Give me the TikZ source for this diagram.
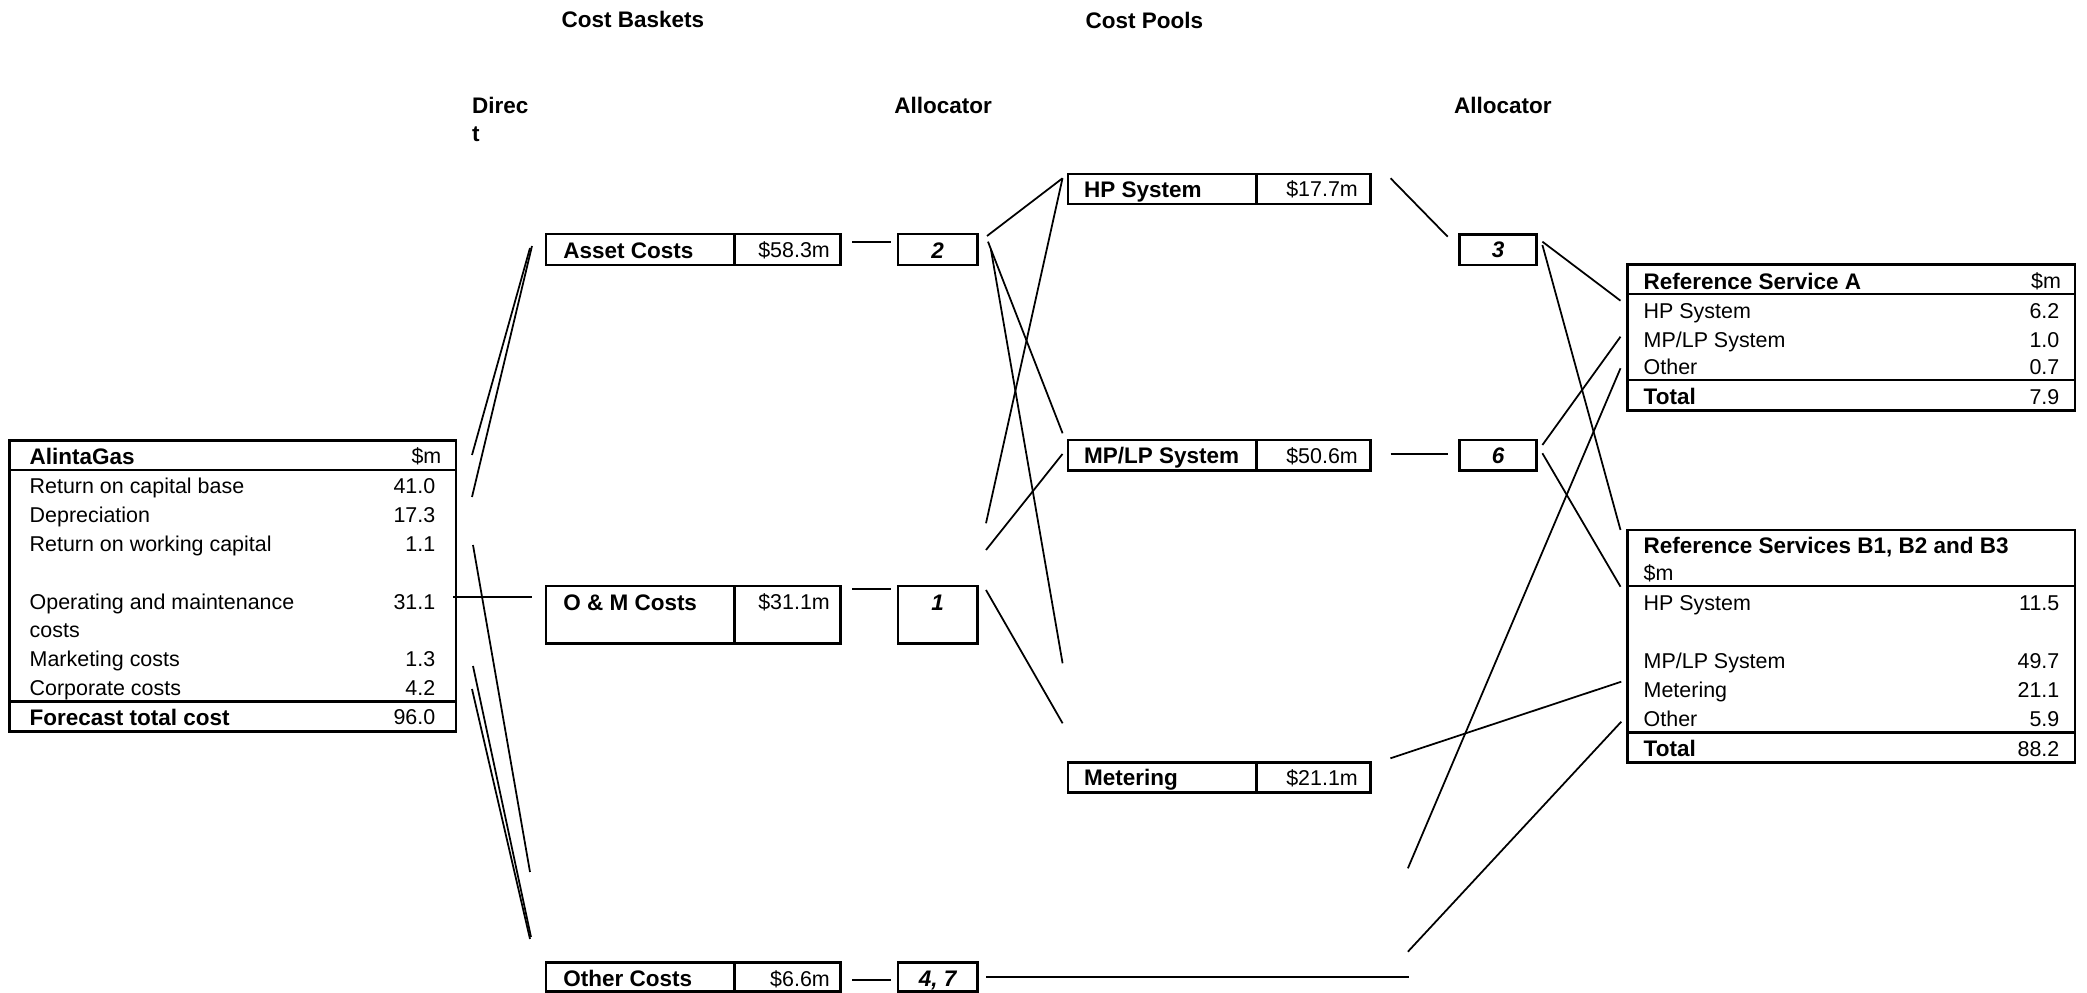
\documentclass[tikz,border=0pt]{standalone}
\usepackage{fontspec}
\setmainfont{Liberation Sans}
\tikzset{
  box/.style={draw, line width=0.8pt},
  txt/.style={inner sep=0pt, text height=4.4pt, text depth=0pt, font=\fontsize{6.1}{7.5}\selectfont},
  hd/.style={txt, text height=4.6pt, font=\fontsize{6.4}{7.5}\selectfont\bfseries},
  alc/.style={hd, font=\fontsize{6.4}{7.5}\selectfont\bfseries\itshape},
  link/.style={line width=0.5pt},
}
\begin{document}
\begin{tikzpicture}[x=0.1mm, y=-0.1mm]
\useasboundingbox (0,0) rectangle (2087,993);

% headings
\node[hd, anchor=west] (baskets) at (561,19) {Cost Baskets};
\node[hd, anchor=west] (pools) at (1085,20) {Cost Pools};
\node[hd, anchor=west] (direct1) at (471.5,105) {Direc};
\node[hd, anchor=west] (direct2) at (471.5,133) {t};
\node[hd, anchor=west] (allocA) at (893.6,105) {Allocator};
\node[hd, anchor=west] (allocB) at (1453.5,105) {Allocator};

% AlintaGas
\draw[box] (9.6,440.7) rectangle (456,731.7);
\draw[box] (9.6,470) -- (456,470);
\draw[box] (9.6,701.7) -- (456,701.7);
\node[hd, anchor=west] (agname) at (29,456) {AlintaGas};
\node[txt, anchor=east] (agunit) at (442,456) {\$m};
\foreach \y/\t/\v [count=\i] in {486/Return on capital base/41.0, 515/Depreciation/17.3,
    544/Return on working capital/1.1, 602/Operating and maintenance/31.1,
    659/Marketing costs/1.3, 688/Corporate costs/4.2}{
  \node[txt, anchor=west] (agrow\i) at (29,\y) {\t};
  \node[txt, anchor=east] (agval\i) at (436,\y) {\v};
}
\node[txt, anchor=west] (agcosts) at (29,630) {costs};
\node[hd, anchor=west] (agtotal) at (29,717) {Forecast total cost};
\node[txt, anchor=east] (agtotalv) at (436,717) {96.0};

% cost baskets
\foreach \n/\yt/\yb/\l/\v in {asset/234/265/Asset Costs/\$58.3m, om/586/643.5/O \& M Costs/\$31.1m,
    other/962.3/991.5/Other Costs/\$6.6m}{
  \draw[box] (546,\yt) rectangle (840.7,\yb);
  \draw[box] (734.4,\yt) -- (734.4,\yb);
  \node[hd, anchor=west] (\n) at (562.6,\yt+16) {\l};
  \node[txt, anchor=east] (\n v) at (830.5,\yt+16) {\v};
}
\foreach \n/\yt/\yb/\l in {al2/234/265/2, al1/586/643.5/1, al47/962.3/991.5/{4, 7}}{
  \draw[box] (898,\yt) rectangle (977.4,\yb);
  \node[alc] (\n) at (937.7,\yt+16) {\l};
}

% cost pools
\draw[box] (1068,174) rectangle (1370.5,204);
\draw[box] (1256.7,174) -- (1256.7,204);
\node[hd, anchor=west] (hp) at (1083.5,189) {HP System};
\node[txt, anchor=east] (hpv) at (1358.5,189) {\$17.7m};
\draw[box] (1068,440) rectangle (1370.5,470.7);
\draw[box] (1256.7,440) -- (1256.7,470.7);
\node[hd, anchor=west] (mplp) at (1083.5,455.5) {MP/LP System};
\node[txt, anchor=east] (mplpv) at (1358.5,455.5) {\$50.6m};
\draw[box] (1068,762.7) rectangle (1370.5,792.7);
\draw[box] (1256.7,762.7) -- (1256.7,792.7);
\node[hd, anchor=west] (meter) at (1083.5,777.7) {Metering};
\node[txt, anchor=east] (meterv) at (1358.5,777.7) {\$21.1m};

\foreach \n/\yt/\yb/\l in {al3/234.3/265/3, al6/440/470.7/6}{
  \draw[box] (1459.8,\yt) rectangle (1536.6,\yb);
  \node[alc] (\n) at (1498.2,\yt+15.5) {\l};
}

% Reference Service A
\draw[box] (1627.3,264.3) rectangle (2075,410.7);
\draw[box] (1627.3,294) -- (2075,294);
\draw[box] (1627.3,380) -- (2075,380);
\node[hd, anchor=west] (raname) at (1643,281) {Reference Service A};
\node[txt, anchor=east] (raunit) at (2061.7,281) {\$m};
\node[txt, anchor=west] (rahp) at (1643,311) {HP System};
\node[txt, anchor=east] (rahpv) at (2060,311) {6.2};
\node[txt, anchor=west] (ramp) at (1643,339.3) {MP/LP System};
\node[txt, anchor=east] (rampv) at (2060,339.3) {1.0};
\node[txt, anchor=west] (raot) at (1643,366.7) {Other};
\node[txt, anchor=east] (raotv) at (2060,366.7) {0.7};
\node[hd, anchor=west] (ratot) at (1643,396.7) {Total};
\node[txt, anchor=east] (ratotv) at (2060,396.7) {7.9};

% Reference Services B1, B2 and B3
\draw[box] (1627.3,530) rectangle (2075,762.3);
\draw[box] (1627.3,586) -- (2075,586);
\draw[box] (1627.3,732.7) -- (2075,732.7);
\node[hd, anchor=west] (rbname) at (1643,545) {Reference Services B1, B2 and B3};
\node[txt, anchor=west] (rbunit) at (1643,572.3) {\$m};
\node[txt, anchor=west] (rbhp) at (1643,602.7) {HP System};
\node[txt, anchor=east] (rbhpv) at (2060,602.7) {11.5};
\node[txt, anchor=west] (rbmp) at (1643,660.7) {MP/LP System};
\node[txt, anchor=east] (rbmpv) at (2060,660.7) {49.7};
\node[txt, anchor=west] (rbme) at (1643,689.3) {Metering};
\node[txt, anchor=east] (rbmev) at (2060,689.3) {21.1};
\node[txt, anchor=west] (rbot) at (1643,718.3) {Other};
\node[txt, anchor=east] (rbotv) at (2060,718.3) {5.9};
\node[hd, anchor=west] (rbtot) at (1643,748.3) {Total};
\node[txt, anchor=east] (rbtotv) at (2060,748.3) {88.2};

% connector ends
\coordinate (ag1s) at (472,455);    \coordinate (ag1e) at (530,248);
\coordinate (ag2s) at (472,497);    \coordinate (ag2e) at (532,246);
\coordinate (ag3s) at (453,597);    \coordinate (ag3e) at (532,597);
\coordinate (ag4s) at (473,545);    \coordinate (ag4e) at (530,872);
\coordinate (ag5s) at (473,666);    \coordinate (ag5e) at (531,937);
\coordinate (ag6s) at (472,689);    \coordinate (ag6e) at (530,939);
\coordinate (b1s) at (852,241.7);   \coordinate (b1e) at (890.5,241.7);
\coordinate (b2s) at (852,589.3);   \coordinate (b2e) at (891,589.3);
\coordinate (b3s) at (852,980);     \coordinate (b3e) at (891,980);
\coordinate (p1s) at (987,236);     \coordinate (p1e) at (1062.5,178.3);
\coordinate (p2s) at (988,241.7);   \coordinate (p2e) at (1062.6,433.3);
\coordinate (p3s) at (991,250);     \coordinate (p3e) at (1062.6,663.3);
\coordinate (p4s) at (986,523.3);   \coordinate (p4e) at (1062.5,178.3);
\coordinate (p5s) at (986,550);     \coordinate (p5e) at (1062.5,454);
\coordinate (p6s) at (986,590);     \coordinate (p6e) at (1062.6,723.3);
\coordinate (p7s) at (986,976.7);   \coordinate (p7e) at (1409.4,976.7);
\coordinate (q1s) at (1390.6,178.3); \coordinate (q1e) at (1447.7,236.7);
\coordinate (q2s) at (1390.6,454);   \coordinate (q2e) at (1447.7,454);
\coordinate (r1s) at (1542.4,241.7); \coordinate (r1e) at (1620.5,300.7);
\coordinate (r2s) at (1542.4,245);   \coordinate (r2e) at (1620.5,530);
\coordinate (r3s) at (1542.4,445);   \coordinate (r3e) at (1620.5,336.7);
\coordinate (r4s) at (1542.4,453.3); \coordinate (r4e) at (1620.5,586.7);
\coordinate (r5s) at (1407.9,868.3); \coordinate (r5e) at (1620.5,368.3);
\coordinate (r6s) at (1407.9,951.7); \coordinate (r6e) at (1621.3,721.7);
\coordinate (r7s) at (1390.4,758.3); \coordinate (r7e) at (1621.3,681.7);

\foreach \k in {ag1,ag2,ag3,ag4,ag5,ag6,b1,b2,b3,p1,p2,p3,p4,p5,p6,p7,q1,q2,r1,r2,r3,r4,r5,r6,r7}
  \draw[link] (\k s) -- (\k e);

\end{tikzpicture}
\end{document}
